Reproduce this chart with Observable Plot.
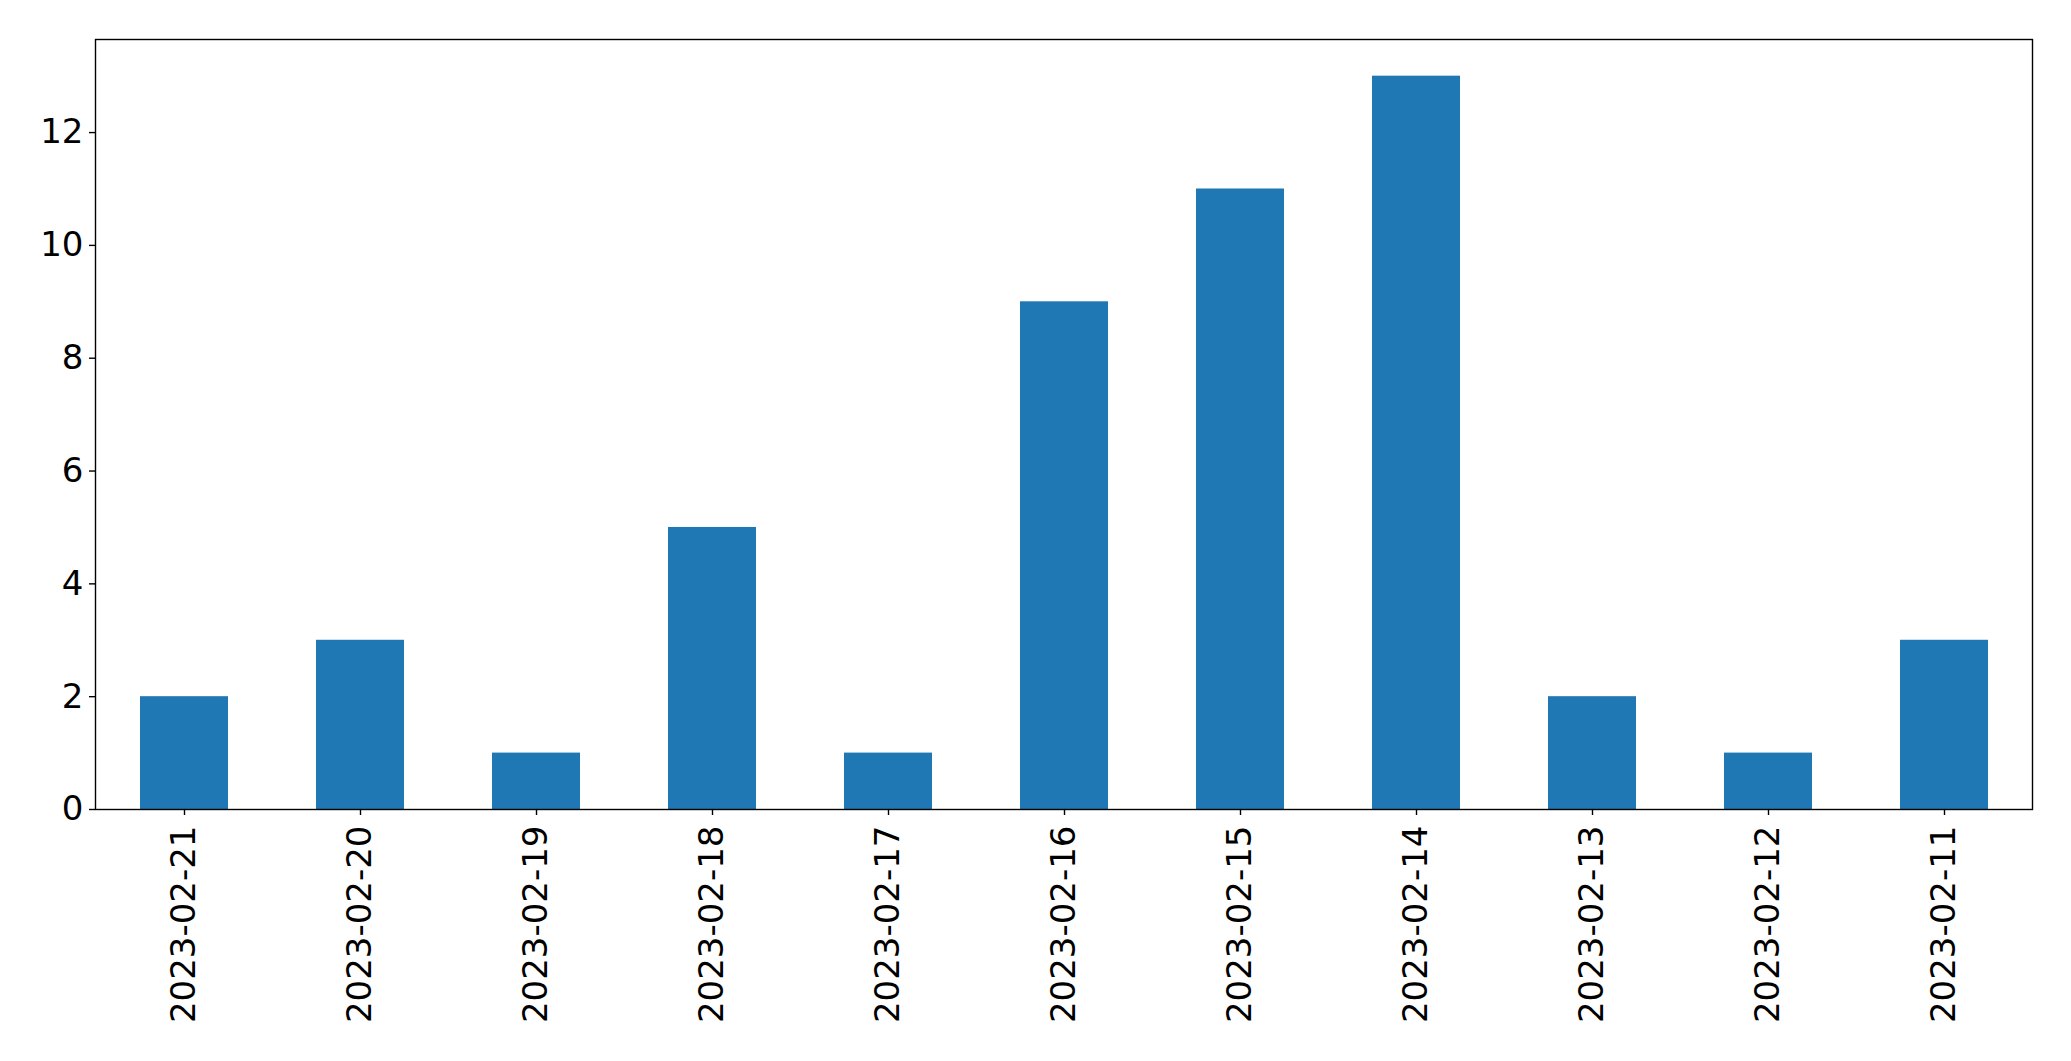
<!DOCTYPE html>
<html>
<head>
<meta charset="utf-8">
<script src="https://cdn.jsdelivr.net/npm/d3@7"></script>
<script src="https://cdn.jsdelivr.net/npm/@observablehq/plot@0.6"></script>
<style>
  html, body { margin: 0; padding: 0; background: #fff; }
  svg { display: block; }
</style>
</head>
<body>
<div id="chart"></div>
<script>
const dates = ["2023-02-21","2023-02-20","2023-02-19","2023-02-18","2023-02-17","2023-02-16","2023-02-15","2023-02-14","2023-02-13","2023-02-12","2023-02-11"];
const counts = [2, 3, 1, 5, 1, 9, 11, 13, 2, 1, 3];
const yTicks = [0, 2, 4, 6, 8, 10, 12];

const data = dates.map((d, i) => ({date: d, count: counts[i]}));

const chart = Plot.plot({
  width: 2071,
  height: 1061,
  marginLeft: 95,
  marginRight: 39,
  marginTop: 39,
  marginBottom: 252,
  style: {fontFamily: "DejaVu Sans", fontSize: "34px", color: "#000", background: "#fff"},
  x: {domain: dates, paddingInner: 0.5, paddingOuter: 0.25, label: null},
  y: {domain: [0, 13 * 1.05], label: null},
  marks: [
    Plot.barY(data, {x: "date", y: "count", fill: "#1f77b4"}),
    Plot.frame({stroke: "#000", strokeWidth: 1.4}),
    Plot.axisY({ticks: yTicks, tickSize: 6, tickPadding: 6, fontSize: 34, label: null, stroke: "#000", strokeWidth: 1.4, fill: "#000"}),
    Plot.axisX({tickSize: 6, tickRotate: -90, tickPadding: 10, fontSize: 34, label: null, stroke: "#000", strokeWidth: 1.4, fill: "#000"})
  ]
});
document.getElementById("chart").appendChild(chart);
</script>
</body>
</html>
